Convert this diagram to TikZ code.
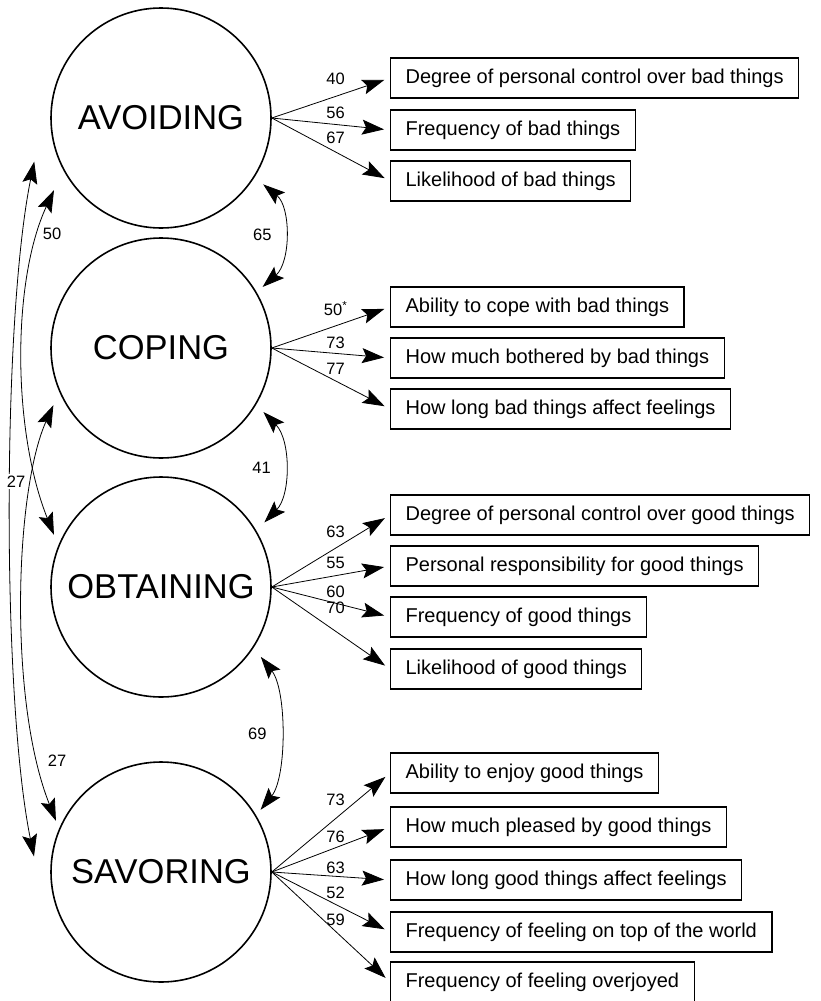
\documentclass[tikz,border=0pt]{standalone}
\usepackage{fontspec}
\setmainfont{Liberation Sans}
\usetikzlibrary{arrows.meta,calc}
\tikzset{
  sem factor/.style={circle,draw,line width=1.6pt,minimum size=220pt,inner sep=0pt,font=\fontsize{34.5}{40}\selectfont},
  sem item/.style={draw,line width=1.2pt,anchor=west,minimum height=40pt,inner xsep=15pt,inner ysep=0pt,
    text height=14pt,text depth=4pt,font=\fontsize{20}{24}\selectfont},
  sem load/.style={line width=.8pt,shorten >=6pt,-{Stealth[length=22pt,width=15pt,inset=4pt]}},
  sem corr/.style={line width=.8pt,{Stealth[length=22pt,width=15pt,inset=4pt]}-{Stealth[length=22pt,width=15pt,inset=4pt]}},
  sem coef/.style={font=\fontsize{16.5}{18}\selectfont,inner sep=1.5pt}
}

\begin{document}
\begin{tikzpicture}[x=1pt,y=-1pt]
  \useasboundingbox (0,0) rectangle (820,1001);
  \node[sem factor] (av) at (161,118) {AVOIDING};
  \node[sem factor] (co) at (161,348) {COPING};
  \node[sem factor] (ob) at (161,587) {OBTAINING};
  \node[sem factor] (sa) at (161,872) {SAVORING};

  \foreach \n/\y/\off/\val/\txt in {1/78/9.5/40/Degree of personal control over bad things,
      2/130/4/56/Frequency of bad things, 3/181/6/67/Likelihood of bad things}{
    \node[sem item] (av\n) at (390,\y) {\txt};
    \draw[sem load] (av.east) -- (av\n.west) node[sem coef,pos=.54,above=\off pt] {\val};
  }
  \foreach \n/\y/\off/\val/\txt in {1/307/8.5/{50\textsuperscript{*}}/Ability to cope with bad things,
      2/358/3/73/How much bothered by bad things, 3/409/5/77/How long bad things affect feelings}{
    \node[sem item] (co\n) at (390,\y) {\txt};
    \draw[sem load] (co.east) -- (co\n.west) node[sem coef,pos=.54,above=\off pt] {\val};
  }
  \foreach \n/\y/\off/\val/\txt in {1/515/8.5/63/Degree of personal control over good things,
      2/566/5/55/Personal responsibility for good things, 3/617/3.5/60/Frequency of good things,
      4/669/15.5/70/Likelihood of good things}{
    \node[sem item] (ob\n) at (390,\y) {\txt};
    \draw[sem load] (ob.east) -- (ob\n.west) node[sem coef,pos=.54,above=\off pt] {\val};
  }
  \foreach \n/\y/\off/\val/\txt in {1/773/11/73/Ability to enjoy good things,
      2/827/3/76/How much pleased by good things, 3/880/.8/63/How long good things affect feelings,
      4/932/3.8/52/Frequency of feeling on top of the world, 5/982/3.8/59/Frequency of feeling overjoyed}{
    \node[sem item] (sa\n) at (390,\y) {\txt};
    \draw[sem load] (sa.east) -- (sa\n.west) node[sem coef,pos=.54,above=\off pt] {\val};
  }

  \draw[sem corr] ($(av.center)!1.1!(av.-33)$) .. controls (291,207) and (291,262) ..
    ($(co.center)!1.07!(co.31)$) node[sem coef,pos=.5,left=10.5pt] {65};
  \draw[sem corr] ($(co.center)!1.09!(co.-32)$) .. controls (291,440) and (291,495) ..
    ($(ob.center)!1.1!(ob.32)$) node[sem coef,pos=.5,left=11.5pt] {41};
  \draw[sem corr] ($(ob.center)!1.1!(ob.-35)$) .. controls (287,690) and (287,777) ..
    ($(sa.center)!1.06!(sa.32)$) node[sem coef,pos=.5,left=12pt] {69};
  \draw[sem corr] ($(av.center)!1.165!(av.-146)$) .. controls (12,280) and (12,430) ..
    ($(ob.center)!1.075!(ob.154)$) node[sem coef,pos=.15,right=3pt] {50};
  \draw[sem corr] ($(co.center)!1.1!(co.-152)$) .. controls (15,490) and (8,700) ..
    ($(sa.center)!1.055!(sa.154.5)$) node[sem coef,pos=.85,right=8pt] {27};
  \draw[sem corr] ($(av.center)!1.21!(av.-161.6)$) .. controls (2,320) and (2,700) ..
    ($(sa.center)!1.155!(sa.173)$) node[sem coef,fill=white,pos=.465,xshift=6pt] {27};
\end{tikzpicture}
\end{document}
